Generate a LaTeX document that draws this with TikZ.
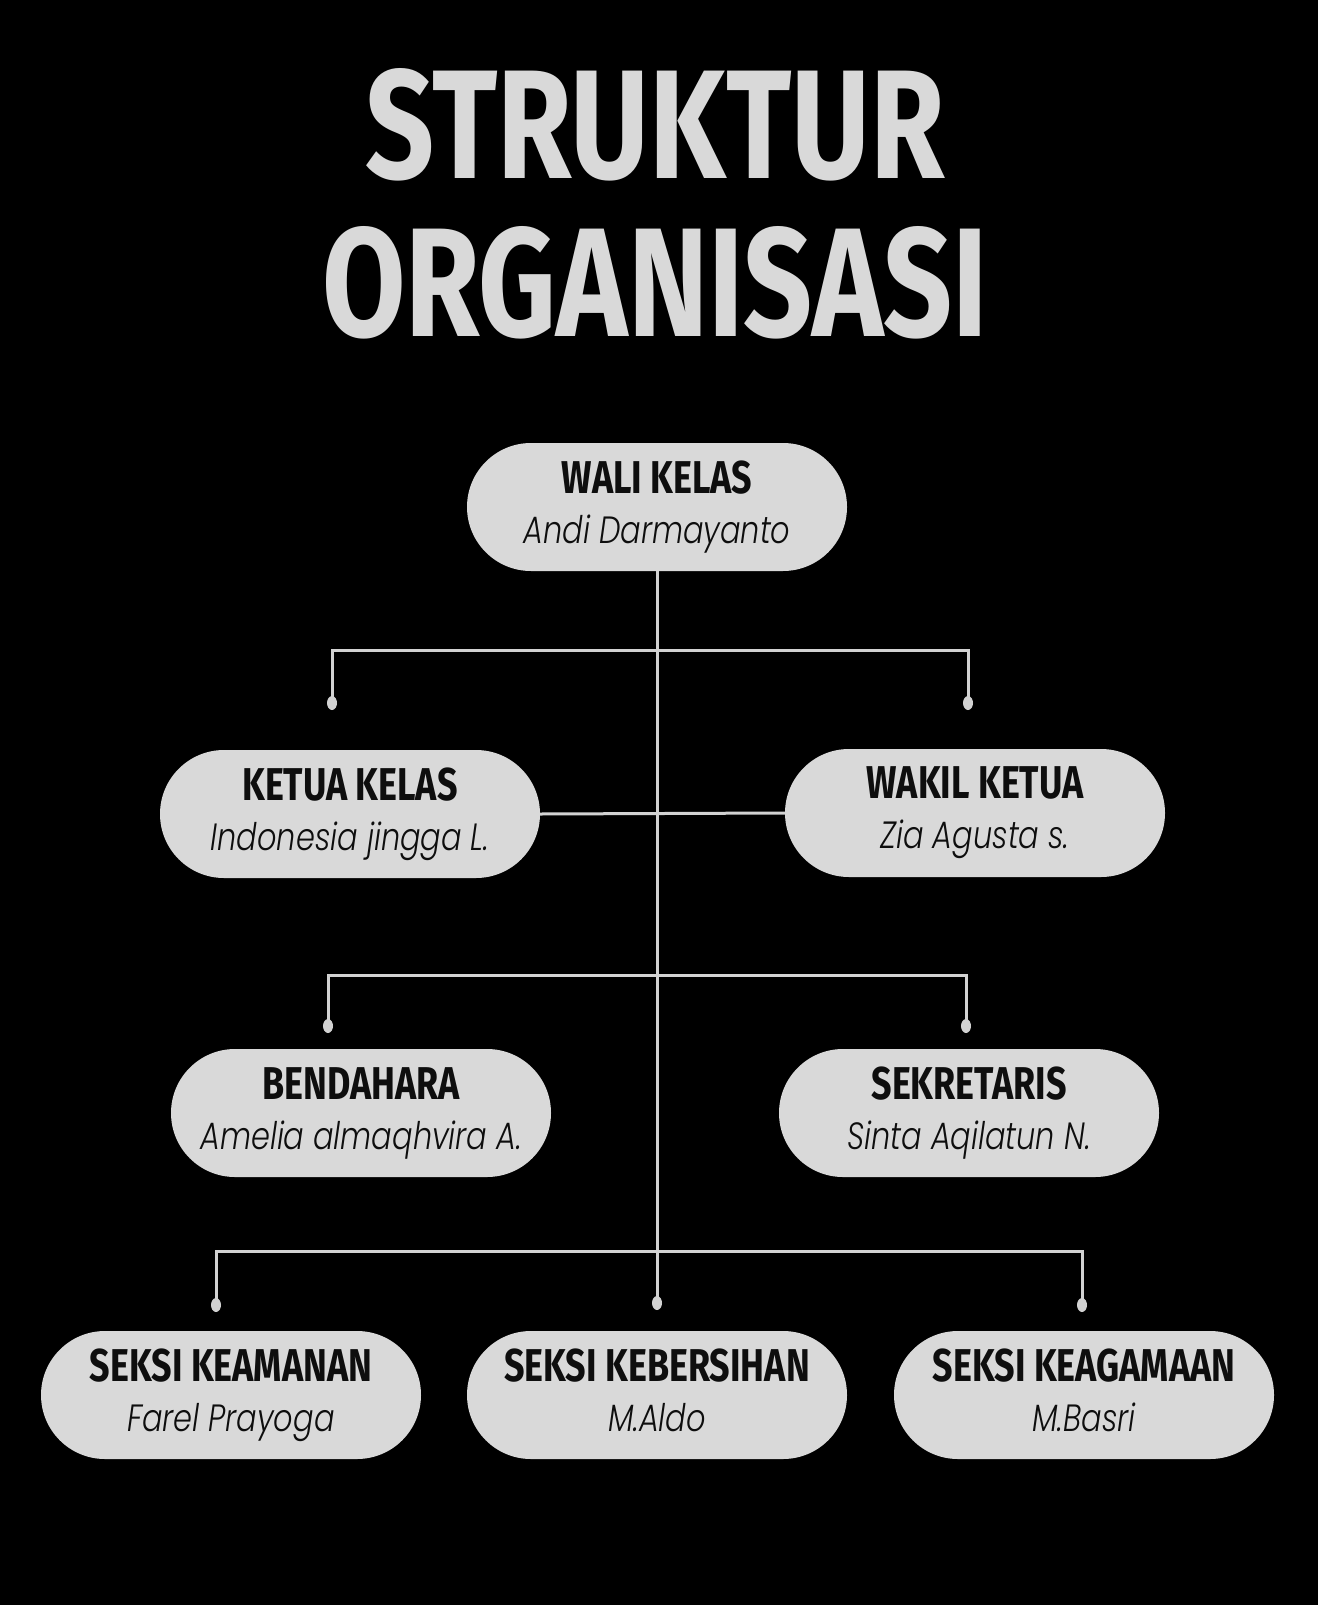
\documentclass[tikz,border=0pt]{standalone}
\usepackage{fontspec}
\usetikzlibrary{shapes.misc}

\newfontfamily\judulfont[FakeStretch=0.78]{Fira Sans}
\newfontfamily\namafont[FakeStretch=0.8]{Poppins Light Italic}
\definecolor{abu}{HTML}{D9D9D9}
\definecolor{garis}{HTML}{D2D2D2}
\definecolor{tinta}{HTML}{0E0E0E}
\newcommand{\jabatan}[2]{{\judulfont\bfseries\fontsize{46}{50}\selectfont #1}\\{\namafont\fontsize{38}{50}\selectfont #2\vphantom{y}}}

\begin{document}
\begin{tikzpicture} [x=1pt,y=-1pt,
  kotak/.style={rounded rectangle,fill=abu,text=tinta,minimum width=380,minimum height=128,inner sep=0pt,align=center,font=\fontsize{45}{50}\selectfont},
  konektor/.style={draw=garis,line width=3pt},
  judul/.style={anchor=base,text=abu,font=\judulfont\bfseries\fontsize{155}{160}\selectfont}]

\fill[black] (0,0) rectangle (1318,1605);

\node[judul] (judul1) at (655,179) {STRUKTUR};
\node[judul] (judul2) at (655,336) {ORGANISASI};

\coordinate (cab1) at (657,650);
\coordinate (cab2) at (657,975);
\coordinate (cab3) at (657,1251);
\coordinate (a1) at (332,703);
\coordinate (a2) at (968,703);
\coordinate (b1) at (328,1026);
\coordinate (b2) at (966,1026);
\coordinate (c1) at (216,1305);
\coordinate (c2) at (657,1303);
\coordinate (c3) at (1082,1305);

\node[kotak] (wali) at (657,507) {\jabatan{WALI KELAS}{Andi Darmayanto}};
\node[kotak] (ketua) at (350,814) {\jabatan{KETUA KELAS}{Indonesia jingga L.}};
\node[kotak] (wakil) at (975,813) {\jabatan{WAKIL KETUA}{Zia Agusta s.}};
\node[kotak] (bendahara) at (361,1113) {\jabatan{BENDAHARA}{Amelia almaqhvira A.}};
\node[kotak] (sekretaris) at (969,1113) {\jabatan{SEKRETARIS}{Sinta Aqilatun N.}};
\node[kotak] (keamanan) at (231,1395) {\jabatan{SEKSI KEAMANAN}{Farel Prayoga}};
\node[kotak] (kebersihan) at (657,1395) {\jabatan{SEKSI KEBERSIHAN}{M.Aldo}};
\node[kotak] (keagamaan) at (1084,1395) {\jabatan{SEKSI KEAGAMAAN}{M.Basri}};

\draw[konektor](wali.south)--(c2);
\draw[konektor](a1)|-(cab1)-|(a2);
\draw[konektor](b1)|-(cab2)-|(b2);
\draw[konektor](c1)|-(cab3)-|(c3);
\draw[konektor](ketua.east)--(wakil.west);

\foreach \titik in {a1,a2,b1,b2,c1,c2,c3}
  \fill[garis](\titik) ellipse[x radius=5,y radius=7];
\end{tikzpicture}
\end{document}
